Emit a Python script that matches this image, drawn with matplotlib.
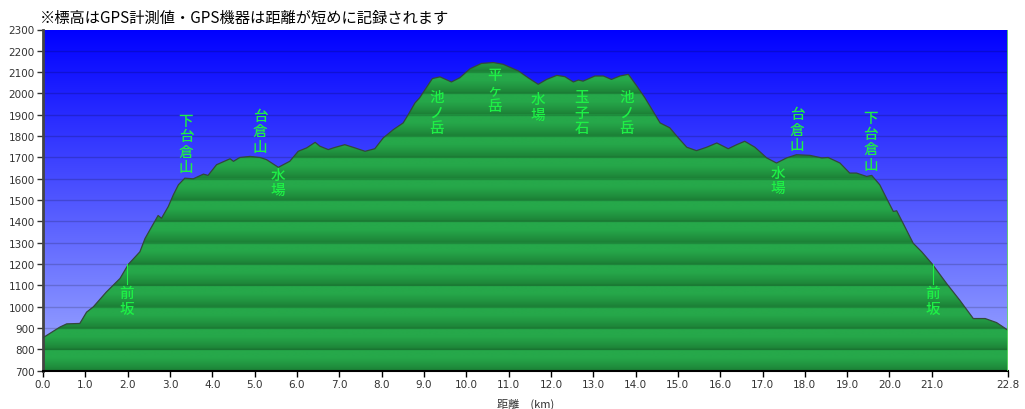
import numpy as np
import matplotlib
matplotlib.use("Agg")
import matplotlib.pyplot as plt
from matplotlib.transforms import offset_copy

plt.rcParams['font.family'] = ['Noto Sans CJK JP', 'DejaVu Sans']

title = "※標高はGPS計測値・GPS機器は距離が短めに記録されます"
xlabel = "距離　(km)"

dist = [0.0, 0.2, 0.4, 0.56, 0.87, 1.03, 1.19, 1.5, 1.82, 2.02, 2.29, 2.41, 2.57, 2.72, 2.80,
        2.96, 3.08, 3.2, 3.35, 3.55, 3.79, 3.9, 4.1, 4.42, 4.5, 4.65, 4.89, 5.13, 5.28, 5.56,
        5.83, 6.03, 6.23, 6.43, 6.54, 6.74, 6.86, 7.13, 7.37, 7.61, 7.84, 8.04, 8.28, 8.51,
        8.63, 8.79, 8.9, 9.2, 9.38, 9.65, 9.85, 10.09, 10.36, 10.64, 10.87, 11.23, 11.46,
        11.7, 11.9, 12.14, 12.33, 12.53, 12.65, 12.76, 13.04, 13.24, 13.43, 13.63, 13.83,
        14.03, 14.22, 14.34, 14.58, 14.81, 15.01, 15.21, 15.44, 15.68, 15.92, 16.19, 16.39,
        16.58, 16.82, 17.1, 17.33, 17.57, 17.8, 18.12, 18.4, 18.55, 18.83, 19.06, 19.22,
        19.46, 19.58, 19.77, 19.93, 20.09, 20.17, 20.32, 20.56, 20.76, 21.0, 21.35, 21.66,
        21.98, 22.26, 22.53, 22.8]
elev = [855, 880, 905, 920, 922, 975, 1000, 1070, 1133, 1200, 1258, 1320, 1376, 1428, 1415,
        1470, 1525, 1572, 1603, 1600, 1622, 1616, 1666, 1694, 1682, 1700, 1705, 1700, 1690, 1654,
        1682, 1729, 1745, 1771, 1753, 1737, 1745, 1760, 1745, 1729, 1741, 1792, 1831, 1862,
        1901, 1956, 1980, 2070, 2078, 2054, 2074, 2116, 2141, 2145, 2137, 2106, 2074,
        2043, 2066, 2085, 2079, 2054, 2063, 2058, 2082, 2082, 2066, 2082, 2090,
        2035, 1980, 1941, 1862, 1839, 1792, 1748, 1732, 1748, 1768, 1741, 1760,
        1776, 1748, 1698, 1674, 1698, 1713, 1710, 1698, 1700, 1674, 1627, 1627,
        1611, 1616, 1572, 1509, 1447, 1450, 1392, 1298, 1258, 1203, 1109, 1031,
        945, 945, 926, 890]

label_names = ["前坂", "下台倉山", "台倉山", "水場", "池ノ岳", "平ヶ岳", "水場", "玉子石",
               "池ノ岳", "水場", "台倉山", "下台倉山", "前坂"]
label_x = [1.98, 3.38, 5.13, 5.55, 9.3, 10.68, 11.7, 12.73, 13.79, 17.37, 17.82, 19.55, 21.02]
label_y = [1027, 1764, 1822, 1582, 1909, 2013, 1938, 1909, 1909, 1592, 1831, 1775, 1027]
leader_top = [1200, None, None, None, None, None, None, None, None, None, None, None, 1203]
leader_bottom = [1105, None, None, None, None, None, None, None, None, None, None, None, 1105]

xticks = [float(i) for i in range(22)] + [22.8]
yticks = list(range(700, 2301, 100))

fig = plt.figure(figsize=(10.25, 4.1), dpi=100)
ax = fig.add_axes([43 / 1025, 1 - 371.8 / 410, 965 / 1025, 341.3 / 410])
ax.set_xlim(0, 22.8)
ax.set_ylim(700, 2300)

# background gradient
n = 400
t = np.linspace(0, 1, n)[:, None]  # 0 bottom -> 1 top
top_c = np.array([0, 0, 255]) / 255
bot_c = np.array([160, 172, 255]) / 255
bg = (bot_c + (top_c - bot_c) * t)[:, None, :] * np.ones((1, 2, 1))
ax.imshow(bg, extent=[0, 22.8, 700, 2300], origin='lower', aspect='auto', zorder=0,
          interpolation='bilinear')

# green banded fill
ys = np.linspace(700, 2300, 1600)
frac = ((ys - 700) % 100) / 100.0
dark = np.array([27, 124, 52]) / 255
light = np.array([38, 168, 74]) / 255
g = dark + (light - dark) * np.clip(frac[:, None] * 1.6, 0, 1) ** 0.8
gimg = g[:, None, :] * np.ones((1, 2, 1))
poly = ax.fill_between(dist, 700, elev, facecolor='none', edgecolor='none')
im = ax.imshow(gimg, extent=[0, 22.8, 700, 2300], origin='lower', aspect='auto', zorder=1,
               interpolation='bilinear')
path = poly.get_paths()[0]
im.set_clip_path(path, transform=ax.transData)

ax.plot(dist, elev, color='#33483a', lw=0.9, zorder=3)

for yv in yticks[1:-1]:
    ax.axhline(yv, color='black', alpha=0.17, lw=1, zorder=2)

# labels
green = '#1ef046'
step_px = 15.5
for name, xv, yv, lt, lb in zip(label_names, label_x, label_y, leader_top, leader_bottom):
    k = len(name)
    for i, ch in enumerate(name):
        off = ((k - 1) / 2 - i) * step_px
        tr = offset_copy(ax.transData, fig=fig, x=0, y=off * 72 / 100, units='points')
        ax.text(xv, yv, ch, transform=tr, ha='center', va='center', fontsize=10.5,
                color=green, zorder=5, fontweight='medium')
    if lt is not None:
        ax.plot([xv, xv], [lb, lt], color=green, lw=0.8, zorder=4)

ax.axvline(22.8, color='#66dd66', lw=1.2, zorder=4)

ax.set_xticks(xticks)
ax.set_xticklabels([f"{v:.1f}" for v in xticks])
ax.set_yticks(yticks)
ax.set_yticklabels([str(v) for v in yticks])
ax.tick_params(axis='both', labelsize=7.5, colors='#333333', length=4, width=1,
               direction='out', pad=2)
ax.tick_params(axis='x', colors='black')
for lab in ax.get_xticklabels() + ax.get_yticklabels():
    lab.set_family('DejaVu Sans')
    lab.set_color('#333333')
ax.spines['top'].set_visible(False)
ax.spines['right'].set_visible(False)
ax.spines['left'].set_color('#444444')
ax.spines['left'].set_linewidth(2)
ax.spines['bottom'].set_color('black')
ax.spines['bottom'].set_linewidth(1.5)
ax.set_xlabel(xlabel, fontsize=8, color='#333333', labelpad=6)

fig.text(40 / 1025, 1 - 18 / 410, title, fontsize=11, va='center', ha='left', color='black')

fig.savefig("out.png", dpi=100)
